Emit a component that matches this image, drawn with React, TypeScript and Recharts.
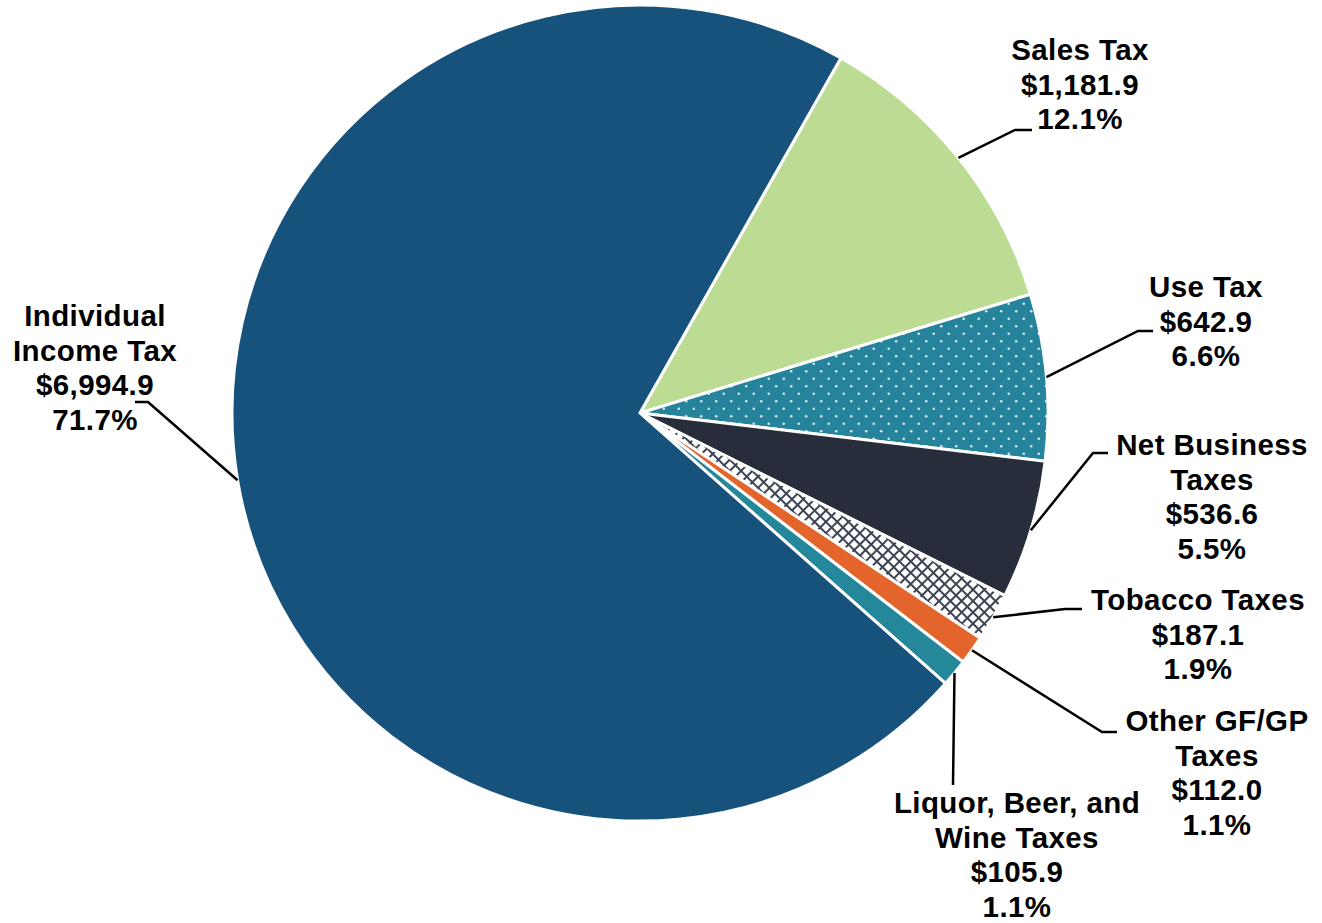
import React from "react";
import { PieChart, Pie, Cell } from "recharts";

// FY revenue by source ($ millions)
const categories = [
  "Sales Tax",
  "Use Tax",
  "Net Business Taxes",
  "Tobacco Taxes",
  "Other GF/GP Taxes",
  "Liquor, Beer, and Wine Taxes",
  "Individual Income Tax",
];
const labelLines = [
  ["Sales Tax"],
  ["Use Tax"],
  ["Net Business", "Taxes"],
  ["Tobacco Taxes"],
  ["Other GF/GP", "Taxes"],
  ["Liquor, Beer, and", "Wine Taxes"],
  ["Individual", "Income Tax"],
];
const values = [1181.9, 642.9, 536.6, 187.1, 112.0, 105.9, 6994.9];

const fills = [
  "#BCDB93",
  "url(#dots)",
  "#272D3B",
  "url(#crosshatch)",
  "#E4652C",
  "#25879A",
  "#17527D",
];

// label placement relative to pie centre: text anchor, elbow, end of leader
const labelPos = [
  { tx: 440, ty: -363, ex: 375, ey: -283, hx: 392 },
  { tx: 566, ty: -126, ex: 498, ey: -82, hx: 513 },
  { tx: 572, ty: 32, ex: 453, ey: 40, hx: 468 },
  { tx: 558, ty: 187, ex: 425, ey: 196, hx: 442 },
  { tx: 577, ty: 308, ex: 462, ey: 319, hx: 477 },
  { tx: 377, ty: 390, ex: 313, ey: 372, hx: 313 },
  { tx: -545, ty: -97, ex: -492, ey: -11, hx: -505 },
];

const total = values.reduce((a, b) => a + b, 0);
const data = categories.map((name, i) => ({ name, value: values[i] }));

const RADIAN = Math.PI / 180;
const FONT = 29.5;
const LINE_H = 34.5;

function fmtMoney(v: number) {
  return "$" + v.toLocaleString("en-US", { minimumFractionDigits: 1, maximumFractionDigits: 1 });
}

function renderLabel(props: any) {
  const { cx, cy, midAngle, outerRadius, index } = props;
  const p = labelPos[index];
  const sx = cx + outerRadius * Math.cos(-midAngle * RADIAN);
  const sy = cy + outerRadius * Math.sin(-midAngle * RADIAN);
  const lines = [
    ...labelLines[index],
    fmtMoney(values[index]),
    ((values[index] / total) * 100).toFixed(1) + "%",
  ];
  return (
    <g key={"lbl" + index}>
      <polyline
        points={`${sx},${sy} ${cx + p.ex},${cy + p.ey} ${cx + p.hx},${cy + p.ey}`}
        fill="none"
        stroke="#000"
        strokeWidth={2.5}
      />
      <text
        x={cx + p.tx}
        y={cy + p.ty}
        textAnchor="middle"
        fontFamily="'Liberation Sans', Arial, sans-serif"
        fontWeight="bold"
        fontSize={FONT}
        letterSpacing={0.4}
        fill="#000"
      >
        {lines.map((l, i) => (
          <tspan key={i} x={cx + p.tx} dy={i === 0 ? 10 : LINE_H}>
            {l}
          </tspan>
        ))}
      </text>
    </g>
  );
}

export default function App() {
  return (
    <div style={{ position: "absolute", left: 0, top: 0, width: 1322, height: 923, background: "#fff" }}>
      <svg width={0} height={0} style={{ position: "absolute" }}>
        <defs>
          <pattern id="dots" width={15} height={15} patternUnits="userSpaceOnUse">
            <rect width={15} height={15} fill="#25849B" />
            <circle cx={3.75} cy={3.75} r={1.3} fill="#D8E8EC" />
            <circle cx={11.25} cy={11.25} r={1.3} fill="#D8E8EC" />
          </pattern>
          <pattern
            id="crosshatch"
            width={8}
            height={8}
            patternUnits="userSpaceOnUse"
            patternTransform="rotate(45)"
          >
            <rect width={8} height={8} fill="#fff" />
            <rect x={0} y={0} width={2} height={8} fill="#3C4352" />
            <rect x={0} y={0} width={8} height={2} fill="#3C4352" />
          </pattern>
        </defs>
      </svg>
      <PieChart width={1322} height={923} margin={{ top: 0, right: 0, bottom: 0, left: 0 }}>
        <Pie
          data={data}
          dataKey="value"
          nameKey="name"
          cx={640}
          cy={413}
          outerRadius={408}
          startAngle={60.5}
          endAngle={-299.5}
          stroke="#fff"
          strokeWidth={3}
          label={renderLabel}
          labelLine={false}
          isAnimationActive={false}
        >
          {data.map((d, i) => (
            <Cell key={d.name} fill={fills[i]} />
          ))}
        </Pie>
      </PieChart>
    </div>
  );
}
